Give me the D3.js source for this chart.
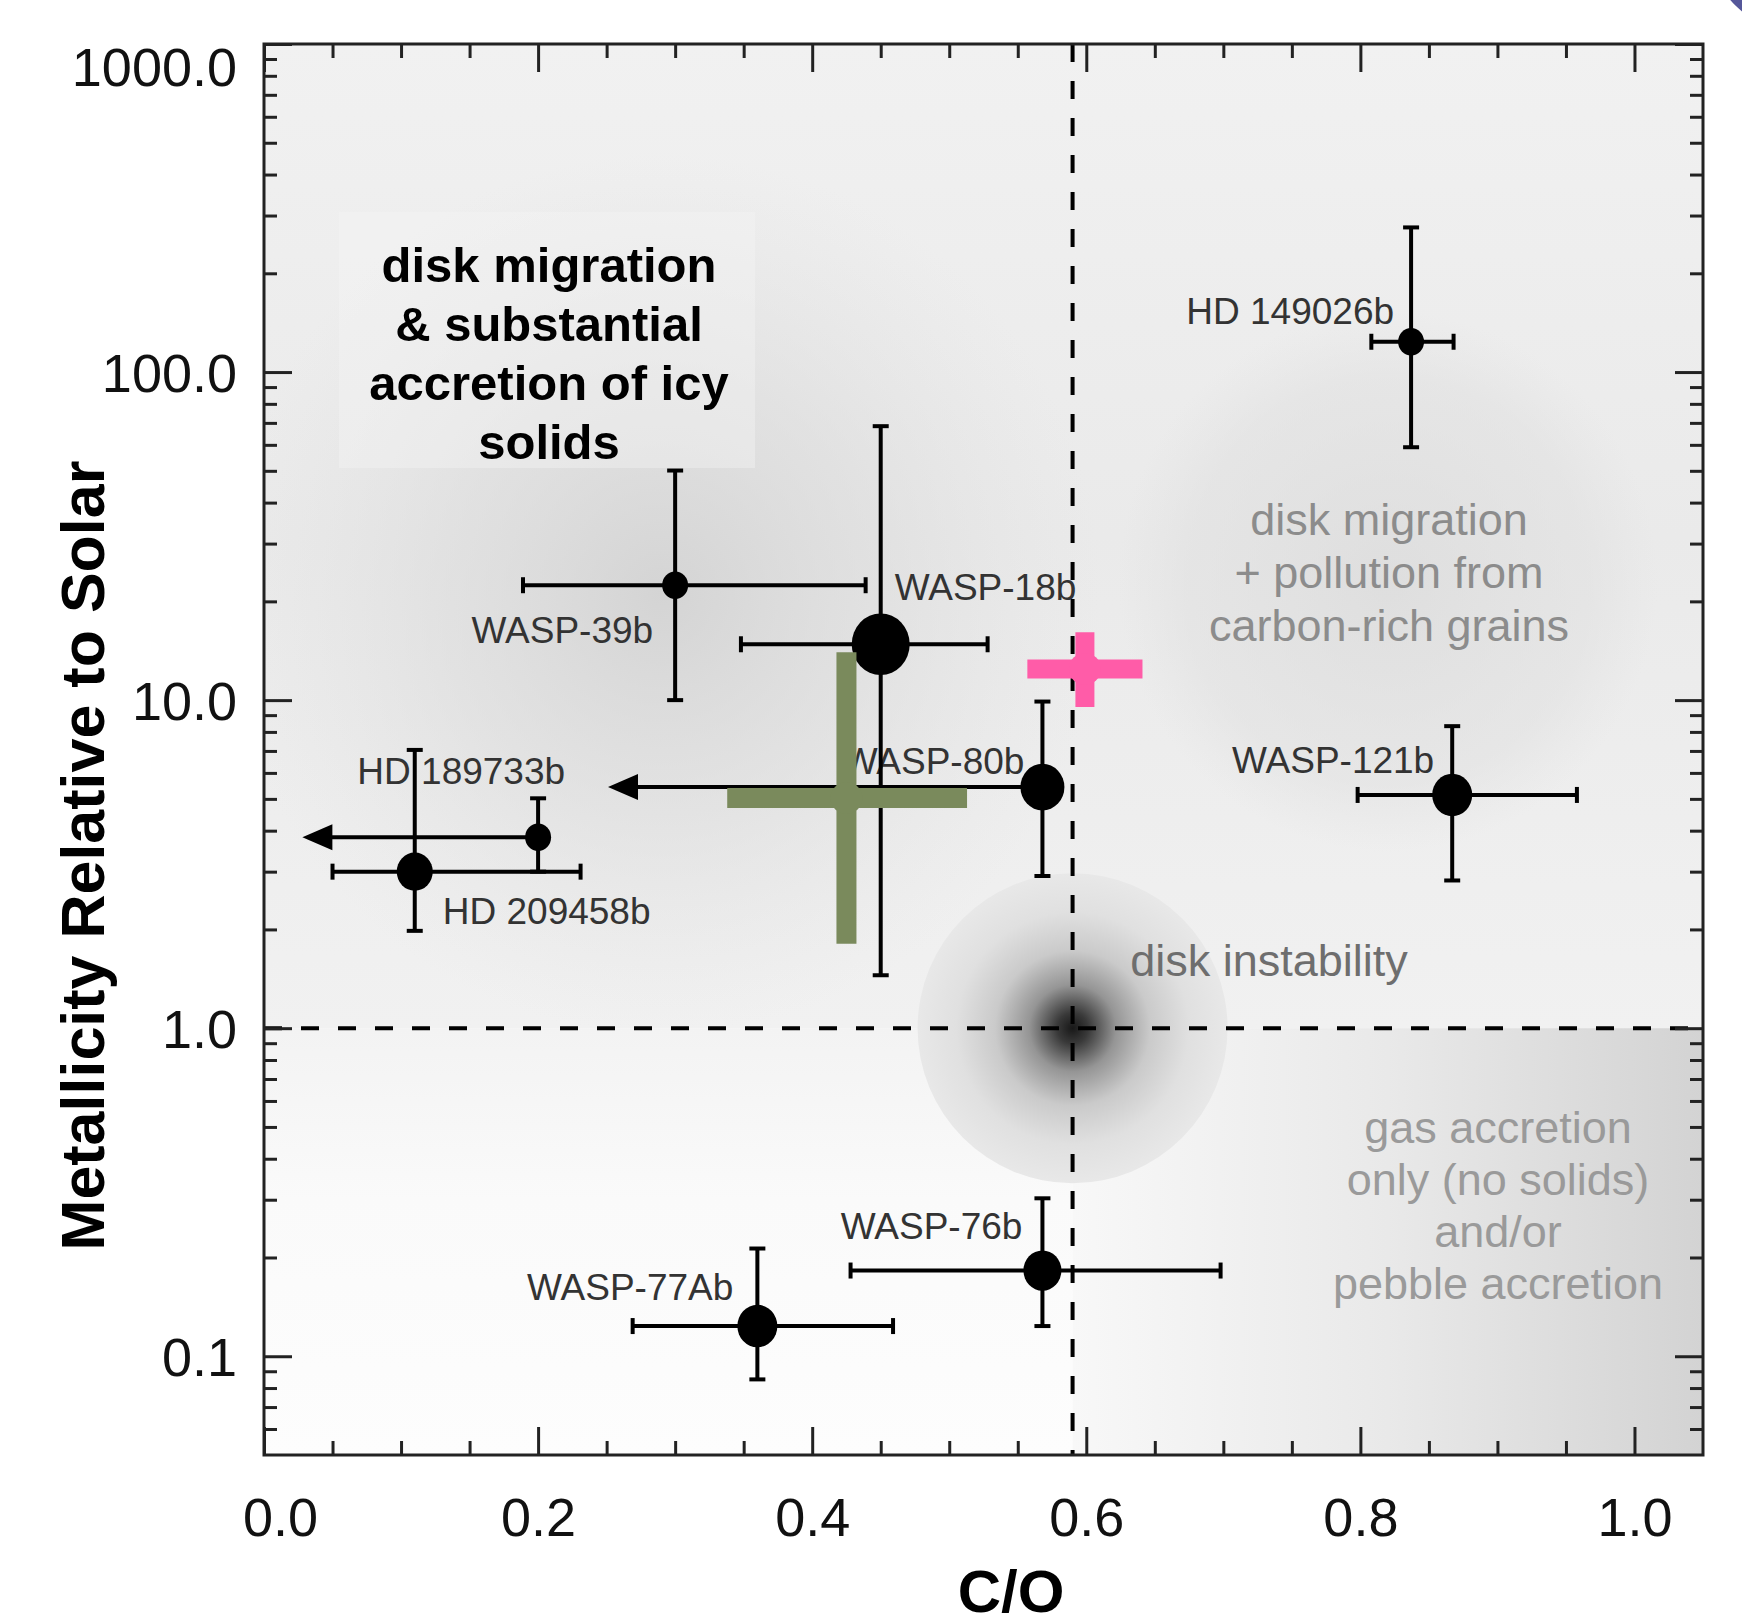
<!DOCTYPE html>
<html>
    <head>
        <meta charset='utf-8'>
        <title>C/O vs metallicity</title>
        <script src='https://cdn.jsdelivr.net/npm/d3@7'></script>
        <style>
            body { margin:0; background:#fff; }
            svg { display:block; font-family:"Liberation Sans", Arial, sans-serif; }
        </style>
    </head>
    <body>
        <div id='chart'></div>
        <script>
            var planets    = ["HD 149026b", "WASP-39b", "WASP-18b", "WASP-80b", "HD 189733b", "HD 209458b", "WASP-121b", "WASP-76b", "WASP-77Ab"];
            var co         = [0.837, 0.30, 0.45, 0.568, 0.20, 0.11, 0.867, 0.568, 0.36];
            var coLow      = [0.808, 0.189, 0.348, 0.251, 0.028, 0.050, 0.798, 0.428, 0.269];
            var coHigh     = [0.868, 0.439, 0.528, null, null, 0.231, 0.958, 0.698, 0.459];
            var coIsLimit  = [false, false, false, true, true, false, false, false, false];
            var metal      = [123.7, 22.4, 14.8, 5.43, 3.82, 3.0, 5.14, 0.1825, 0.1236];
            var metalLow   = [59, 10.0, 1.45, 2.91, 3.0, 1.98, 2.82, 0.1236, 0.085];
            var metalHigh  = [276, 50.1, 68.4, 9.9, 5.02, 7.05, 8.33, 0.303, 0.213];

            // the two highlighted (coloured) measurements
            var crossCO        = [0.425, 0.599];
            var crossCOLow     = [0.338, 0.557];
            var crossCOHigh    = [0.513, 0.641];
            var crossMetal     = [5.03, 12.45];
            var crossMetalLow  = [1.81, 9.53];
            var crossMetalHigh = [14.0, 16.1];

            var solarCO = 0.59;
            var solarMetal = 1.0;

            var xTicks = [0, 0.2, 0.4, 0.6, 0.8, 1.0];
            var xTickLabels = ["0.0", "0.2", "0.4", "0.6", "0.8", "1.0"];
            var yTicks = [0.1, 1, 10, 100, 1000];
            var yTickLabels = ["0.1", "1.0", "10.0", "100.0", "1000.0"];

            var regionIcy = ["disk migration", "& substantial", "accretion of icy", "solids"];
            var regionCarbon = ["disk migration", "+ pollution from", "carbon-rich grains"];
            var regionInstab = ["disk instability"];
            var regionGas = ["gas accretion", "only (no solids)", "and/or", "pebble accretion"];

            // ---- layout / style (not data) ----
            var W = 1742, H = 1613;
            var plotL = 264, plotR = 1703, plotT = 44, plotB = 1455;
            var markerR = [13, 13, 29, 22, 13, 18, 20, 19, 20];
            var labelPos = [   // dx, dy, anchor relative to the point
                [-17, -18, "end"], [-22, 58, "end"], [14, -44, "start"],
                [-18, -13, "end"], [27, -53, "end"], [28, 52, "start"],
                [-18, -22, "end"], [-20, -32, "end"], [-24, -26, "end"]
            ];
            var crossColor = ["#7a8a5c", "#ff5ca8"];
            var crossWidth = [20, 19];

            var x = d3.scaleLinear().domain([0, 1.05]).range([plotL, plotR]);
            var y = d3.scaleLog().domain([0.05, 1000]).range([plotB, plotT]);

            var svg = d3.select("#chart").append("svg")
                        .attr("width", W).attr("height", H);

            var defs = svg.append("defs");
            defs.append("clipPath").attr("id", "plotclip")
                .append("rect").attr("x", plotL).attr("y", plotT)
                .attr("width", plotR - plotL).attr("height", plotB - plotT);

            function radial(id, stops) {
                var g = defs.append("radialGradient").attr("id", id);
                stops.forEach(function(s) {
                    g.append("stop").attr("offset", s[0]).attr("stop-color", s[1]).attr("stop-opacity", s[2]);
                });
            }
            function linear(id, x2, y2, stops) {
                var g = defs.append("linearGradient").attr("id", id)
                    .attr("x1", 0).attr("y1", 0).attr("x2", x2).attr("y2", y2);
                stops.forEach(function(s) {
                    g.append("stop").attr("offset", s[0]).attr("stop-color", s[1]).attr("stop-opacity", s[2]);
                });
            }
            linear("upperGrad", 0, 1, [[0, "#f1f1f1", 1], [0.5, "#eaeaea", 1], [1, "#f1f1f1", 1]]);
            linear("lowLeftGrad", 0, 1, [[0, "#f3f3f3", 1], [0.4, "#fafafa", 1], [1, "#fdfdfd", 1]]);
            linear("lowRightGrad", 1, 0, [[0, "#f8f8f8", 1], [0.5, "#e9e9e9", 1], [1, "#d3d3d3", 1]]);
            radial("blobA", [[0, "#d0d0d0", 0.85], [0.5, "#d8d8d8", 0.5], [1, "#e0e0e0", 0]]);
            radial("blobB", [[0, "#d9d9d9", 0.7], [0.75, "#dedede", 0.45], [1, "#e0e0e0", 0]]);
            radial("instab", [[0, "#181818", 1], [0.1, "#393939", 1], [0.28, "#959595", 1], [0.5, "#cacaca", 1], [0.75, "#e0e0e0", 1], [1, "#e8e8e8", 1]]);

            var bg = svg.append("g").attr("clip-path", "url(#plotclip)");
            var xs = x(solarCO), ys = y(solarMetal);

            bg.append("rect").attr("x", plotL).attr("y", plotT)
                .attr("width", plotR - plotL).attr("height", ys - plotT)
                .attr("fill", "url(#upperGrad)");
            bg.append("circle").attr("cx", x(0.29)).attr("cy", y(21)).attr("r", 440)
                .attr("fill", "url(#blobA)");
            bg.append("circle").attr("cx", x(0.82)).attr("cy", y(23)).attr("r", 270)
                .attr("fill", "url(#blobB)");
            bg.append("rect").attr("x", plotL).attr("y", ys)
                .attr("width", xs - plotL).attr("height", plotB - ys)
                .attr("fill", "url(#lowLeftGrad)");
            bg.append("rect").attr("x", xs).attr("y", ys)
                .attr("width", plotR - xs).attr("height", plotB - ys)
                .attr("fill", "url(#lowRightGrad)");
            bg.append("circle").attr("cx", xs).attr("cy", ys).attr("r", 155)
                .attr("fill", "url(#instab)");
            // faint box behind the bold annotation
            bg.append("rect").attr("x", 339).attr("y", 212).attr("width", 416).attr("height", 256)
                .attr("fill", "#f4f4f4").attr("opacity", 0.4);

            // ---- region annotations ----
            function block(lines, cx, y0, lh, size, weight, color) {
                var t = svg.append("text")
                    .attr("text-anchor", "middle")
                    .attr("font-size", size + "px")
                    .attr("font-weight", weight)
                    .attr("fill", color);
                t.selectAll("tspan").data(lines).enter().append("tspan")
                    .attr("x", cx)
                    .attr("y", function(d, i) { return y0 + i * lh; })
                    .text(function(d) { return d; });
            }
            block(regionIcy, 549, 282, 59, 49, "bold", "#000");
            block(regionCarbon, 1389, 535, 53, 45, "normal", "#8c8c8c");
            block(regionInstab, 1269, 976, 53, 45, "normal", "#6e6e6e");
            block(regionGas, 1498, 1143, 52, 45, "normal", "#9a9a9a");

            // ---- planet labels ----
            svg.append("g").selectAll("text")
                .data(planets).enter().append("text")
                .attr("x", function(d, i) { return x(co[i]) + labelPos[i][0]; })
                .attr("y", function(d, i) { return y(metal[i]) + labelPos[i][1]; })
                .attr("text-anchor", function(d, i) { return labelPos[i][2]; })
                .attr("font-size", "37px")
                .attr("fill", "#333")
                .text(function(d) { return d; });

            // ---- solar reference lines ----
            svg.append("line")
                .attr("x1", xs).attr("x2", xs).attr("y1", plotT).attr("y2", plotB)
                .attr("stroke", "#000").attr("stroke-width", 4).attr("stroke-dasharray", "18,19");
            svg.append("line")
                .attr("x1", plotL).attr("x2", plotR).attr("y1", ys).attr("y2", ys)
                .attr("stroke", "#000").attr("stroke-width", 4).attr("stroke-dasharray", "18,19");

            // ---- error bars ----
            var eb = svg.append("g").attr("stroke", "#000").attr("stroke-width", 4).attr("fill", "none");
            var cap = 8;
            planets.forEach(function(p, i) {
                var px = x(co[i]), py = y(metal[i]);
                // vertical
                eb.append("line").attr("x1", px).attr("x2", px)
                    .attr("y1", y(metalHigh[i])).attr("y2", y(metalLow[i]));
                eb.append("line").attr("x1", px - cap).attr("x2", px + cap)
                    .attr("y1", y(metalHigh[i])).attr("y2", y(metalHigh[i]));
                eb.append("line").attr("x1", px - cap).attr("x2", px + cap)
                    .attr("y1", y(metalLow[i])).attr("y2", y(metalLow[i]));
                if (coIsLimit[i]) {
                    var tip = x(coLow[i]);
                    eb.append("line").attr("x1", tip + 20).attr("x2", px).attr("y1", py).attr("y2", py);
                    svg.append("path")
                        .attr("d", "M" + tip + "," + py + "L" + (tip + 30) + "," + (py - 13) + "L" + (tip + 30) + "," + (py + 13) + "Z")
                        .attr("fill", "#000");
                } else {
                    eb.append("line").attr("x1", x(coLow[i])).attr("x2", x(coHigh[i])).attr("y1", py).attr("y2", py);
                    eb.append("line").attr("x1", x(coLow[i])).attr("x2", x(coLow[i]))
                        .attr("y1", py - cap).attr("y2", py + cap);
                    eb.append("line").attr("x1", x(coHigh[i])).attr("x2", x(coHigh[i]))
                        .attr("y1", py - cap).attr("y2", py + cap);
                }
            });

            svg.append("g").selectAll("ellipse")
                .data(planets).enter().append("ellipse")
                .attr("cx", function(d, i) { return x(co[i]); })
                .attr("cy", function(d, i) { return y(metal[i]); })
                .attr("rx", function(d, i) { return markerR[i]; })
                .attr("ry", function(d, i) { return markerR[i] * 1.06; })
                .attr("fill", "#000");

            // ---- coloured crosses ----
            crossCO.forEach(function(c, i) {
                var g = svg.append("g");
                g.append("line").attr("x1", x(crossCOLow[i])).attr("x2", x(crossCOHigh[i]))
                    .attr("y1", y(crossMetal[i])).attr("y2", y(crossMetal[i]))
                    .attr("stroke", crossColor[i]).attr("stroke-width", crossWidth[i]);
                g.append("line").attr("x1", x(c)).attr("x2", x(c))
                    .attr("y1", y(crossMetalHigh[i])).attr("y2", y(crossMetalLow[i]))
                    .attr("stroke", crossColor[i]).attr("stroke-width", crossWidth[i]);
                g.append("circle").attr("cx", x(c)).attr("cy", y(crossMetal[i])).attr("r", 16)
                    .attr("fill", crossColor[i]);
            });

            // ---- axes (ticks inward on all four sides) ----
            var xMinor = d3.range(0.05, 1.05, 0.05).filter(function(v) {
                return Math.abs(v * 5 - Math.round(v * 5)) > 1e-6;
            });
            var yMinor = [];
            [0.01, 0.1, 1, 10, 100].forEach(function(dec) {
                for (var k = 2; k <= 9; k++) {
                    var v = dec * k;
                    if (v > 0.05 && v < 1000) yMinor.push(v);
                }
            });

            function styleAxis(g) {
                g.select(".domain").remove();
                g.selectAll(".tick line").attr("stroke", "#222").attr("stroke-width", 3);
                g.selectAll(".tick text").attr("font-size", "54px").attr("fill", "#111")
                    .attr("font-family", "'Liberation Sans', Arial, sans-serif");
            }

            svg.append("g").attr("transform", "translate(0," + plotB + ")")
                .call(d3.axisBottom(x).tickValues(xTicks).tickSize(-28).tickPadding(43)
                    .tickFormat(function(d, i) { return xTickLabels[i]; }))
                .call(styleAxis)
                .call(function(g) { g.select(".tick text").attr("dx", "16"); });
            svg.append("g").attr("transform", "translate(0," + plotB + ")")
                .call(d3.axisBottom(x).tickValues(xMinor).tickSize(-14).tickFormat(""))
                .call(styleAxis);
            svg.append("g").attr("transform", "translate(0," + plotT + ")")
                .call(d3.axisTop(x).tickValues(xTicks).tickSize(-28).tickFormat(""))
                .call(styleAxis);
            svg.append("g").attr("transform", "translate(0," + plotT + ")")
                .call(d3.axisTop(x).tickValues(xMinor).tickSize(-14).tickFormat(""))
                .call(styleAxis);

            svg.append("g").attr("transform", "translate(" + plotL + ",0)")
                .call(d3.axisLeft(y).tickValues(yTicks).tickSize(-28).tickPadding(27)
                    .tickFormat(function(d, i) { return yTickLabels[i]; }))
                .call(styleAxis)
                .call(function(g) {
                    g.selectAll(".tick text").attr("dy", "0.36em");
                    g.selectAll(".tick text").filter(function(d) { return d === 1000; }).attr("dy", "0.76em");
                });
            svg.append("g").attr("transform", "translate(" + plotL + ",0)")
                .call(d3.axisLeft(y).tickValues(yMinor).tickSize(-13).tickFormat(""))
                .call(styleAxis);
            svg.append("g").attr("transform", "translate(" + plotR + ",0)")
                .call(d3.axisRight(y).tickValues(yTicks).tickSize(-28).tickFormat(""))
                .call(styleAxis);
            svg.append("g").attr("transform", "translate(" + plotR + ",0)")
                .call(d3.axisRight(y).tickValues(yMinor).tickSize(-13).tickFormat(""))
                .call(styleAxis);

            svg.append("rect")
                .attr("x", plotL).attr("y", plotT)
                .attr("width", plotR - plotL).attr("height", plotB - plotT)
                .attr("fill", "none").attr("stroke", "#222").attr("stroke-width", 3);

            // ---- axis titles ----
            svg.append("text")
                .attr("transform", "translate(104," + ((plotT + plotB) / 2 + 106) + ") rotate(-90)")
                .attr("text-anchor", "middle")
                .attr("font-size", "61px").attr("font-weight", "bold").attr("fill", "#000")
                .text("Metallicity Relative to Solar");
            svg.append("text")
                .attr("x", 1011).attr("y", 1612)
                .attr("text-anchor", "middle")
                .attr("font-size", "60px").attr("font-weight", "bold").attr("fill", "#000")
                .text("C/O");

            // bit of a neighbouring graphic peeking in at the top right corner
            svg.append("circle").attr("cx", 1800).attr("cy", -60).attr("r", 85)
                .attr("fill", "none").attr("stroke", "#55579a").attr("stroke-width", 14);
        </script>
    </body>
</html>
